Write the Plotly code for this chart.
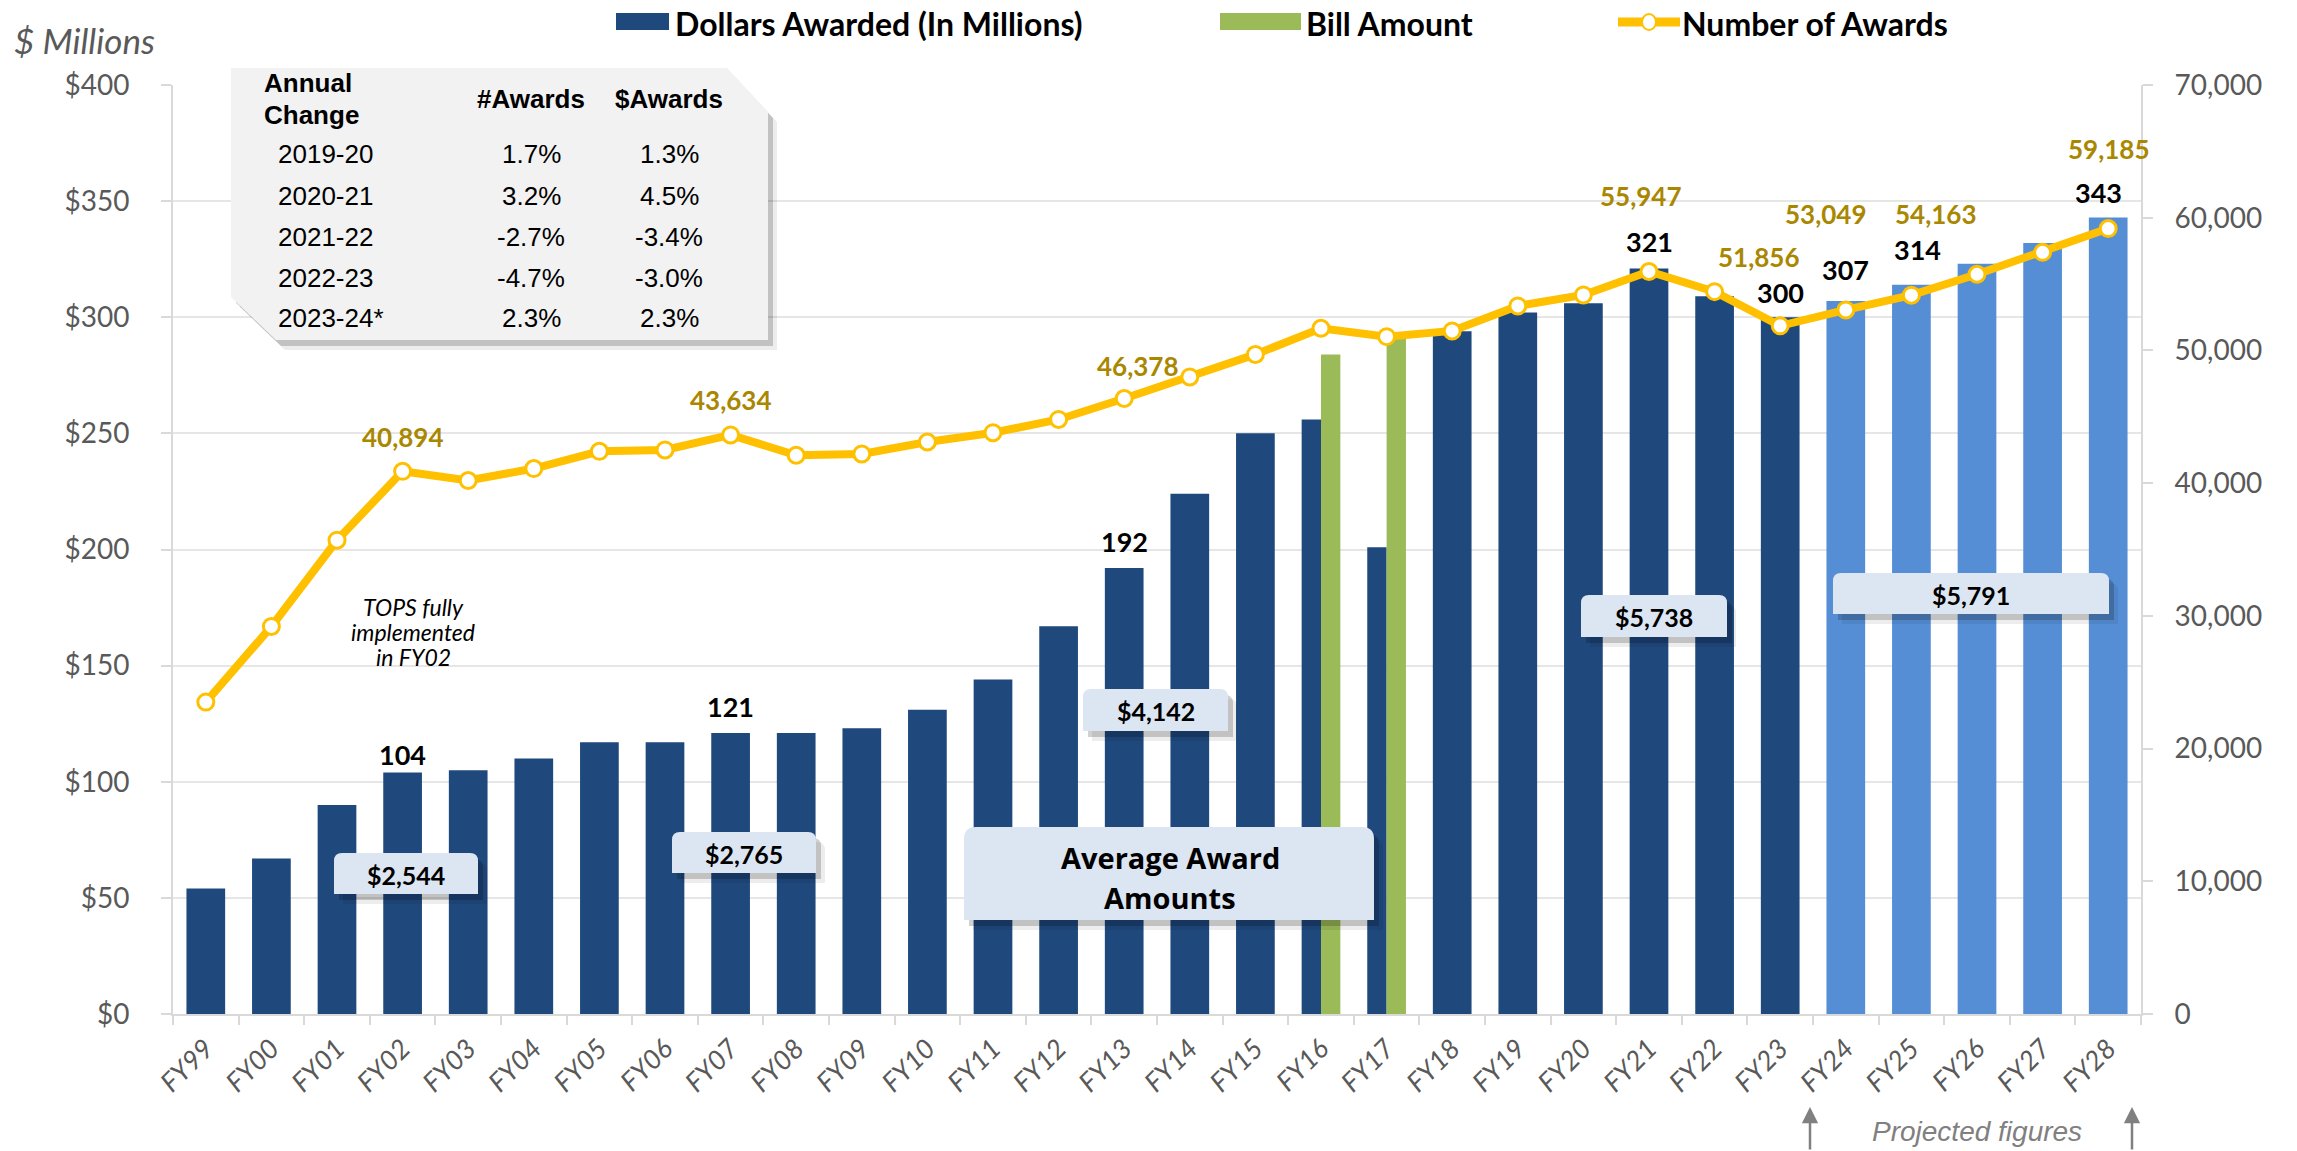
import plotly.graph_objects as go

# ---------------- data ----------------
years = ["FY99", "FY00", "FY01", "FY02", "FY03", "FY04", "FY05", "FY06", "FY07", "FY08",
         "FY09", "FY10", "FY11", "FY12", "FY13", "FY14", "FY15", "FY16", "FY17", "FY18",
         "FY19", "FY20", "FY21", "FY22", "FY23", "FY24", "FY25", "FY26", "FY27", "FY28"]
dollars = [54, 67, 90, 104, 105, 110, 117, 117, 121, 121,
           123, 131, 144, 167, 192, 224, 250, 256, 201, 294,
           302, 306, 321, 309, 300, 307, 314, 323, 332, 343]
projected = [False] * 25 + [True] * 5
bill_years = ["FY16", "FY17"]
bill_amount = [284, 291]
awards = [23500, 29200, 35700, 40894, 40200, 41100, 42400, 42500, 43634, 42100,
          42200, 43100, 43800, 44800, 46378, 48000, 49700, 51670, 51040, 51470,
          53350, 54180, 55947, 54430, 51856, 53049, 54163, 55740, 57390, 59185]
labeled_years = ["FY02", "FY07", "FY13", "FY21", "FY23", "FY24", "FY25", "FY28"]
avg_award_labels = ["$2,544", "$2,765", "$4,142", "$5,738", "$5,791"]
table_header = ["Annual", "Change", "#Awards", "$Awards"]
table_periods = ["2019-20", "2020-21", "2021-22", "2022-23", "2023-24*"]
table_num_change = ["1.7%", "3.2%", "-2.7%", "-4.7%", "2.3%"]
table_dollar_change = ["1.3%", "4.5%", "-3.4%", "-3.0%", "2.3%"]

# ---------------- styling ----------------
W, H = 2297, 1151
# plot area in page pixels
L, R, T, B = 173, 2141, 85, 1014
DARK = "#1F497D"
LIGHT = "#558ED5"
GREEN = "#9BBB59"
GOLD = "#FFC000"
GOLD_TXT = "#A98700"
GRAY = "#595959"
AXIS = "#D9D9D9"
BOXFILL = "#DCE6F2"


def px(x):
    return (x - L) / (R - L)


def py(y):
    return (B - y) / (B - T)


BW = 0.59
bar_w = []
bar_off = []
for yr in years:
    if yr in bill_years:
        bar_w.append(BW / 2)
        bar_off.append(-BW / 2)
    else:
        bar_w.append(BW)
        bar_off.append(-BW / 2)

fig = go.Figure()
fig.add_trace(go.Bar(
    x=years, y=dollars, name="Dollars Awarded (In Millions)",
    width=bar_w, offset=bar_off,
    marker=dict(color=[LIGHT if p else DARK for p in projected], line=dict(width=0)),
    showlegend=False,
))
fig.add_trace(go.Bar(
    x=bill_years, y=bill_amount, name="Bill Amount",
    width=[BW / 2] * len(bill_years), offset=[0] * len(bill_years),
    marker=dict(color=GREEN, line=dict(width=0)),
    showlegend=False,
))
fig.add_trace(go.Scatter(
    x=years, y=awards, name="Number of Awards", yaxis="y2", mode="lines+markers",
    line=dict(color=GOLD, width=8),
    marker=dict(size=16, color="white", line=dict(color=GOLD, width=3)),
    showlegend=False,
))

annotations = []
shapes = []


def ann(x, y, text, font, xanchor="center", yanchor="middle"):
    annotations.append(dict(x=px(x), y=py(y), xref="paper", yref="paper", text=text,
                            showarrow=False, xanchor=xanchor, yanchor=yanchor, font=font))


# data labels on bars and line
bar_shift = {"FY02": (0, 18), "FY07": (0, 26), "FY13": (0, 27), "FY21": (0, 27),
             "FY23": (0, 25), "FY24": (0, 31), "FY25": (6, 35), "FY28": (-10, 25)}
line_shift = {"FY02": (0, 34), "FY07": (0, 35), "FY13": (13, 33), "FY21": (-9, 76),
              "FY23": (-22, 69), "FY24": (-20, 96), "FY25": (24, 81), "FY28": (0, 80)}
for yr in labeled_years:
    i = years.index(yr)
    dx, dy = bar_shift[yr]
    annotations.append(dict(x=yr, y=dollars[i], xref="x", yref="y", text=f"<b>{dollars[i]}</b>",
                            showarrow=False, xshift=dx, yshift=dy, xanchor="center", yanchor="middle",
                            font=dict(family="Lato", size=27, color="black")))
    dx, dy = line_shift[yr]
    annotations.append(dict(x=yr, y=awards[i], xref="x", yref="y2", text=f"<b>{awards[i]:,}</b>",
                            showarrow=False, xshift=dx, yshift=dy, xanchor="center", yanchor="middle",
                            font=dict(family="Lato", size=26, color=GOLD_TXT)))


def add_shadow(path_fn, *args):
    shapes.append(dict(type="path", xref="paper", yref="paper", layer="above",
                       path=path_fn(*args, dx=9, dy=10), fillcolor="rgba(0,0,0,0.07)", line=dict(width=0)))
    shapes.append(dict(type="path", xref="paper", yref="paper", layer="above",
                       path=path_fn(*args, dx=5, dy=6), fillcolor="rgba(0,0,0,0.18)", line=dict(width=0)))


def rbox_path(x0, y0, x1, y1, r=8, dx=0, dy=0):
    x0 += dx; x1 += dx; y0 += dy; y1 += dy
    return (f"M {px(x0)},{py(y1)} L {px(x0)},{py(y0 + r)} Q {px(x0)},{py(y0)} {px(x0 + r)},{py(y0)} "
            f"L {px(x1 - r)},{py(y0)} Q {px(x1)},{py(y0)} {px(x1)},{py(y0 + r)} L {px(x1)},{py(y1)} Z")


def table_path(dx=0, dy=0):
    pts = [(231, 68), (727, 68), (768, 112), (768, 340), (276, 340), (231, 297)]
    s = " L ".join(f"{px(x + dx)},{py(y + dy)}" for x, y in pts)
    return "M " + s + " Z"


# average award boxes
avg_boxes = [(334, 853, 478, 894), (672, 832, 816, 873), (1083, 689, 1228, 731),
             (1581, 595, 1727, 637), (1833, 573, 2109, 614)]
for (x0, y0, x1, y1), txt in zip(avg_boxes, avg_award_labels):
    add_shadow(rbox_path, x0, y0, x1, y1, 8)
    shapes.append(dict(type="path", xref="paper", yref="paper", layer="above",
                       path=rbox_path(x0, y0, x1, y1, 8), fillcolor=BOXFILL, line=dict(width=0)))
    ann((x0 + x1) / 2, (y0 + y1) / 2 + 1, f"<b>{txt}</b>", dict(family="Lato", size=25, color="black"))

# Average Award Amounts box
add_shadow(rbox_path, 964, 827, 1374, 920, 12)
shapes.append(dict(type="path", xref="paper", yref="paper", layer="above",
                   path=rbox_path(964, 827, 1374, 920, 12), fillcolor=BOXFILL, line=dict(width=0)))
ann(1170, 857, "<b>Average Award</b>", dict(family="Open Sans", size=29, color="black"))
ann(1170, 897, "<b>Amounts</b>", dict(family="Open Sans", size=29, color="black"))

# table box
add_shadow(lambda dx=0, dy=0: table_path(dx, dy))
shapes.append(dict(type="path", xref="paper", yref="paper", layer="above",
                   path=table_path(), fillcolor="#F2F2F2", line=dict(width=0)))
tfont = dict(family="Liberation Sans", size=26, color="black")
ann(262, 83, f"<b>{table_header[0]}</b>", tfont, xanchor="left")
ann(262, 115, f"<b>{table_header[1]}</b>", tfont, xanchor="left")
ann(531, 99, f"<b>{table_header[2]}</b>", tfont)
ann(669, 99, f"<b>{table_header[3]}</b>", tfont)
row_y = [154, 196, 237, 278, 318]
for yy, p, a, d in zip(row_y, table_periods, table_num_change, table_dollar_change):
    ann(276, yy, p, tfont, xanchor="left")
    ann(531, yy, a, tfont)
    ann(669, yy, d, tfont)

# other text
ann(12, 40, "<i>$ Millions</i>", dict(family="Lato", size=35, color=GRAY), xanchor="left")
tops_font = dict(family="Lato", size=23, color="black")
ann(413, 607, "<i>TOPS fully</i>", tops_font)
ann(413, 632, "<i>implemented</i>", tops_font)
ann(413, 657, "<i>in FY02</i>", tops_font)
ann(1977, 1131, "<i>Projected figures</i>", dict(family="Liberation Sans", size=28, color="#808080"))
for ax_x in (1810, 2132):
    annotations.append(dict(x=px(ax_x), y=py(1107), xref="paper", yref="paper", text="",
                            showarrow=True, arrowhead=2, arrowsize=1.3, arrowwidth=2.5,
                            arrowcolor="#808080", ax=0, ay=44))

# legend (manual)
lfont = dict(family="Lato", size=32, color="black")
shapes.append(dict(type="rect", xref="paper", yref="paper", x0=px(616), x1=px(669),
                   y0=py(30), y1=py(13), fillcolor=DARK, line=dict(width=0)))
ann(673, 23, "<b>Dollars Awarded (In Millions)</b>", lfont, xanchor="left")
shapes.append(dict(type="rect", xref="paper", yref="paper", x0=px(1220), x1=px(1301),
                   y0=py(30), y1=py(13), fillcolor=GREEN, line=dict(width=0)))
ann(1304, 23, "<b>Bill Amount</b>", lfont, xanchor="left")
shapes.append(dict(type="line", xref="paper", yref="paper", x0=px(1618), x1=px(1680),
                   y0=py(22), y1=py(22), line=dict(color=GOLD, width=9)))
shapes.append(dict(type="circle", xref="paper", yref="paper", x0=px(1642), x1=px(1656),
                   y0=py(30), y1=py(14), fillcolor="white", line=dict(color=GOLD, width=2)))
ann(1680, 23, "<b>Number of Awards</b>", lfont, xanchor="left")

fig.update_layout(
    width=W, height=H,
    margin=dict(l=L, r=W - R, t=T, b=H - B, pad=0),
    paper_bgcolor="white", plot_bgcolor="white",
    barmode="overlay",
    showlegend=False,
    xaxis=dict(
        type="category", range=[-0.5, len(years) - 0.5],
        showline=True, linecolor=AXIS, linewidth=2,
        ticks="outside", tickson="boundaries", ticklen=9, tickcolor=AXIS, tickwidth=2,
        tickangle=-45, ticklabelstandoff=6,
        tickfont=dict(family="Lato", size=27, color=GRAY, style="italic"),
        showgrid=False,
    ),
    yaxis=dict(
        range=[0, 400], dtick=50, tickprefix="$",
        showline=True, linecolor=AXIS, linewidth=2,
        ticks="outside", ticklen=10, tickcolor=AXIS, tickwidth=2,
        ticklabelstandoff=26,
        showgrid=True, gridcolor="#E6E6E6", gridwidth=2, zeroline=False,
        tickfont=dict(family="Lato", size=28, color=GRAY),
    ),
    yaxis2=dict(
        range=[0, 70000], dtick=10000, tickformat=",",
        overlaying="y", side="right",
        showline=True, linecolor=AXIS, linewidth=2,
        ticks="outside", ticklen=10, tickcolor=AXIS, tickwidth=2,
        ticklabelstandoff=16,
        showgrid=False, zeroline=False,
        tickfont=dict(family="Lato", size=28, color=GRAY),
    ),
    shapes=shapes,
    annotations=annotations,
)

fig.write_html("out.html", config={"displayModeBar": False},
               post_script="document.body.style.margin='0px';")
